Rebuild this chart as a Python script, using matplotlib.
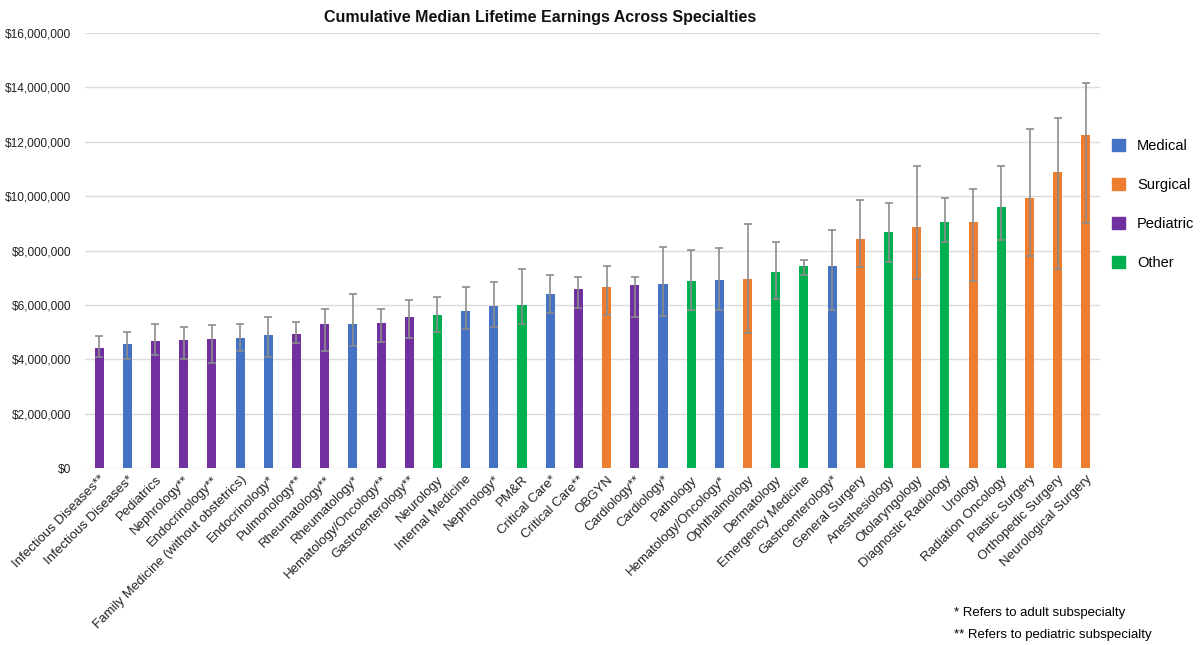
import matplotlib.pyplot as plt
from matplotlib.patches import Patch
from matplotlib.ticker import FuncFormatter

plt.rcParams['font.family'] = ['Liberation Sans', 'DejaVu Sans']

specialties = [
    'Infectious Diseases**', 'Infectious Diseases*', 'Pediatrics', 'Nephrology**',
    'Endocrinology**', 'Family Medicine (without obstetrics)', 'Endocrinology*',
    'Pulmonology**', 'Rheumatology**', 'Rheumatology*', 'Hematology/Oncology**',
    'Gastroenterology**', 'Neurology', 'Internal Medicine', 'Nephrology*', 'PM&R',
    'Critical Care*', 'Critical Care**', 'OBGYN', 'Cardiology**', 'Cardiology*',
    'Pathology', 'Hematology/Oncology*', 'Ophthalmology', 'Dermatology',
    'Emergency Medicine', 'Gastroenterology*', 'General Surgery', 'Anesthesiology',
    'Otolaryngology', 'Diagnostic Radiology', 'Urology', 'Radiation Oncology',
    'Plastic Surgery', 'Orthopedic Surgery', 'Neurological Surgery',
]
groups = [
    'Pediatric', 'Medical', 'Pediatric', 'Pediatric', 'Pediatric', 'Medical', 'Medical',
    'Pediatric', 'Pediatric', 'Medical', 'Pediatric', 'Pediatric', 'Other', 'Medical',
    'Medical', 'Other', 'Medical', 'Pediatric', 'Surgical', 'Pediatric', 'Medical',
    'Other', 'Medical', 'Surgical', 'Other', 'Other', 'Medical', 'Surgical', 'Other',
    'Surgical', 'Other', 'Surgical', 'Other', 'Surgical', 'Surgical', 'Surgical',
]
# median earnings, millions of dollars
median = [4.42, 4.57, 4.66, 4.70, 4.73, 4.78, 4.89, 4.94, 5.28, 5.28, 5.32, 5.54,
          5.62, 5.76, 5.97, 6.01, 6.40, 6.58, 6.64, 6.74, 6.78, 6.87, 6.91, 6.95,
          7.21, 7.42, 7.44, 8.42, 8.69, 8.88, 9.06, 9.06, 9.60, 9.94, 10.89, 12.24]
upper = [4.85, 5.01, 5.28, 5.17, 5.27, 5.28, 5.54, 5.36, 5.84, 6.39, 5.85, 6.18,
         6.28, 6.66, 6.84, 7.31, 7.10, 7.04, 7.43, 7.01, 8.12, 8.03, 8.08, 8.97,
         8.31, 7.64, 8.76, 9.86, 9.73, 11.12, 9.94, 10.27, 11.12, 12.46, 12.86, 14.15]
lower = [4.09, 4.00, 4.16, 4.00, 3.85, 4.30, 4.10, 4.60, 4.31, 4.50, 4.65, 4.79,
         5.00, 5.10, 5.20, 5.30, 5.70, 5.90, 5.63, 5.57, 5.60, 5.80, 5.80, 4.98,
         6.20, 7.10, 5.81, 7.40, 7.57, 6.95, 8.30, 6.89, 8.40, 7.78, 7.32, 9.00]

colors = {'Medical': '#4472C4', 'Surgical': '#ED7D31',
          'Pediatric': '#7030A0', 'Other': '#00B050'}

fig = plt.figure(figsize=(12, 6.45), dpi=100)
ax = fig.add_axes([0.0708, 0.2744, 0.8459, 0.6744])

x = list(range(len(specialties)))
vals = [v * 1e6 for v in median]
err_lo = [(m - l) * 1e6 for m, l in zip(median, lower)]
err_hi = [(u - m) * 1e6 for m, u in zip(median, upper)]

ax.bar(x, vals, 0.32, color=[colors[g] for g in groups], zorder=2)
ax.errorbar(x, vals, yerr=[err_lo, err_hi], fmt='none', ecolor='#8c8c8c',
            elinewidth=1.2, capsize=3, capthick=1.2, zorder=3)

ax.set_xlim(-0.5, len(x) - 0.5)
ax.set_ylim(0, 16e6)
ax.set_yticks([i * 2e6 for i in range(9)])
ax.yaxis.set_major_formatter(FuncFormatter(lambda v, p: '${:,.0f}'.format(v)))
ax.grid(axis='y', color='#dcdcdc', linewidth=1, zorder=0)
for s in ax.spines.values():
    s.set_visible(False)
ax.tick_params(axis='both', length=0, labelsize=9.5, colors='#222222')
ax.tick_params(axis='y', pad=10, labelsize=8.6)
ax.set_xticks(x)
ax.set_xticklabels(specialties, rotation=45, ha='right', rotation_mode='anchor')
ax.tick_params(axis='x', pad=4)

fig.text(0.45, 0.985, 'Cumulative Median Lifetime Earnings Across Specialties',
         ha='center', va='top', fontsize=11.5, fontweight='bold', color='#111111')

handles = [Patch(color=colors[k]) for k in ['Medical', 'Surgical', 'Pediatric', 'Other']]
fig.legend(handles, ['Medical', 'Surgical', 'Pediatric', 'Other'],
           loc='upper left', bbox_to_anchor=(0.916, 0.805), frameon=False,
           fontsize=10.5, handlelength=0.9, handleheight=0.9, labelspacing=1.7,
           handletextpad=0.8)

fig.text(0.795, 0.05, '* Refers to adult subspecialty', fontsize=9.5, va='center')
fig.text(0.795, 0.016, '** Refers to pediatric subspecialty', fontsize=9.5, va='center')

fig.savefig('out.png', dpi=100)
